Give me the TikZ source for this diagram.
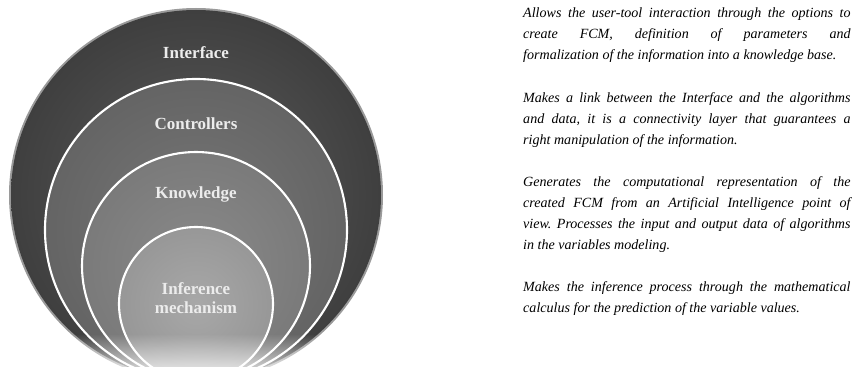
\documentclass[tikz,border=0pt]{standalone}
\usepackage{fontspec}
\setmainfont{Liberation Serif}
\usetikzlibrary{fadings}
\definecolor{LyHalo}{HTML}{9A9A9A}
\definecolor{LyOuter}{HTML}{3F3F3F}
\definecolor{LyOuterIn}{HTML}{5C5C5C}
\definecolor{LyCtrl}{HTML}{646464}
\definecolor{LyCtrlIn}{HTML}{787878}
\definecolor{LyKnow}{HTML}{7A7A7A}
\definecolor{LyKnowIn}{HTML}{8A8A8A}
\definecolor{LyInfer}{HTML}{979797}
\definecolor{LyInferIn}{HTML}{A8A8A8}
\definecolor{LyLabel}{HTML}{ECECEC}

\begin{document}
\frenchspacing
\begin{tikzpicture}[x=0.03cm,y=-0.03cm,
  layer label/.style={text=LyLabel,align=center,inner sep=0pt,
    font=\fontsize{14.5}{16.5}\selectfont\bfseries},
  ring/.style={draw=white,line width=1.8pt},
  desc/.style={anchor=north west,inner sep=0pt,text width=9.82cm,align=justify,
    font=\fontsize{12}{17.9}\selectfont\itshape}]
\path[use as bounding box] (0,0) rectangle (858,367);
\clip (0,0) rectangle (858,367);
\fill[LyHalo] (196,195) circle (187);
\shade[inner color=LyOuterIn,outer color=LyOuter] (196,195) circle (185);
\shadedraw[ring,inner color=LyCtrlIn,outer color=LyCtrl] (196,230) circle (151);
\shadedraw[ring,inner color=LyKnowIn,outer color=LyKnow] (196,266) circle (114);
\shadedraw[ring,inner color=LyInferIn,outer color=LyInfer] (196,304) circle (77);
\fill[white,path fading=north] (0,334) rectangle (420,384);
\node[layer label] (interface) at (196,53) {Interface};
\node[layer label] (controllers) at (196,124) {Controllers};
\node[layer label] (knowledge) at (196,194) {Knowledge};
\node[layer label] (inference) at (196,298) {Inference\\mechanism};
\node[desc] (interfacetext) at (523,8) {Allows the user-tool interaction through the options to\linebreak create FCM, definition of parameters and\linebreak formalization of the information into a knowledge base.};
\node[desc] (controllerstext) at (523,92) {Makes a link between the Interface and the algorithms\linebreak and data, it is a connectivity layer that guarantees a\linebreak right manipulation of the information.};
\node[desc] (knowledgetext) at (523,176) {Generates the computational representation of the\linebreak created FCM from an Artificial Intelligence point of\linebreak view. Processes the input and output data of algorithms\linebreak in the variables modeling.};
\node[desc] (inferencetext) at (523,281) {Makes the inference process through the mathematical\linebreak calculus for the prediction of the variable values.};
\end{tikzpicture}
\end{document}
